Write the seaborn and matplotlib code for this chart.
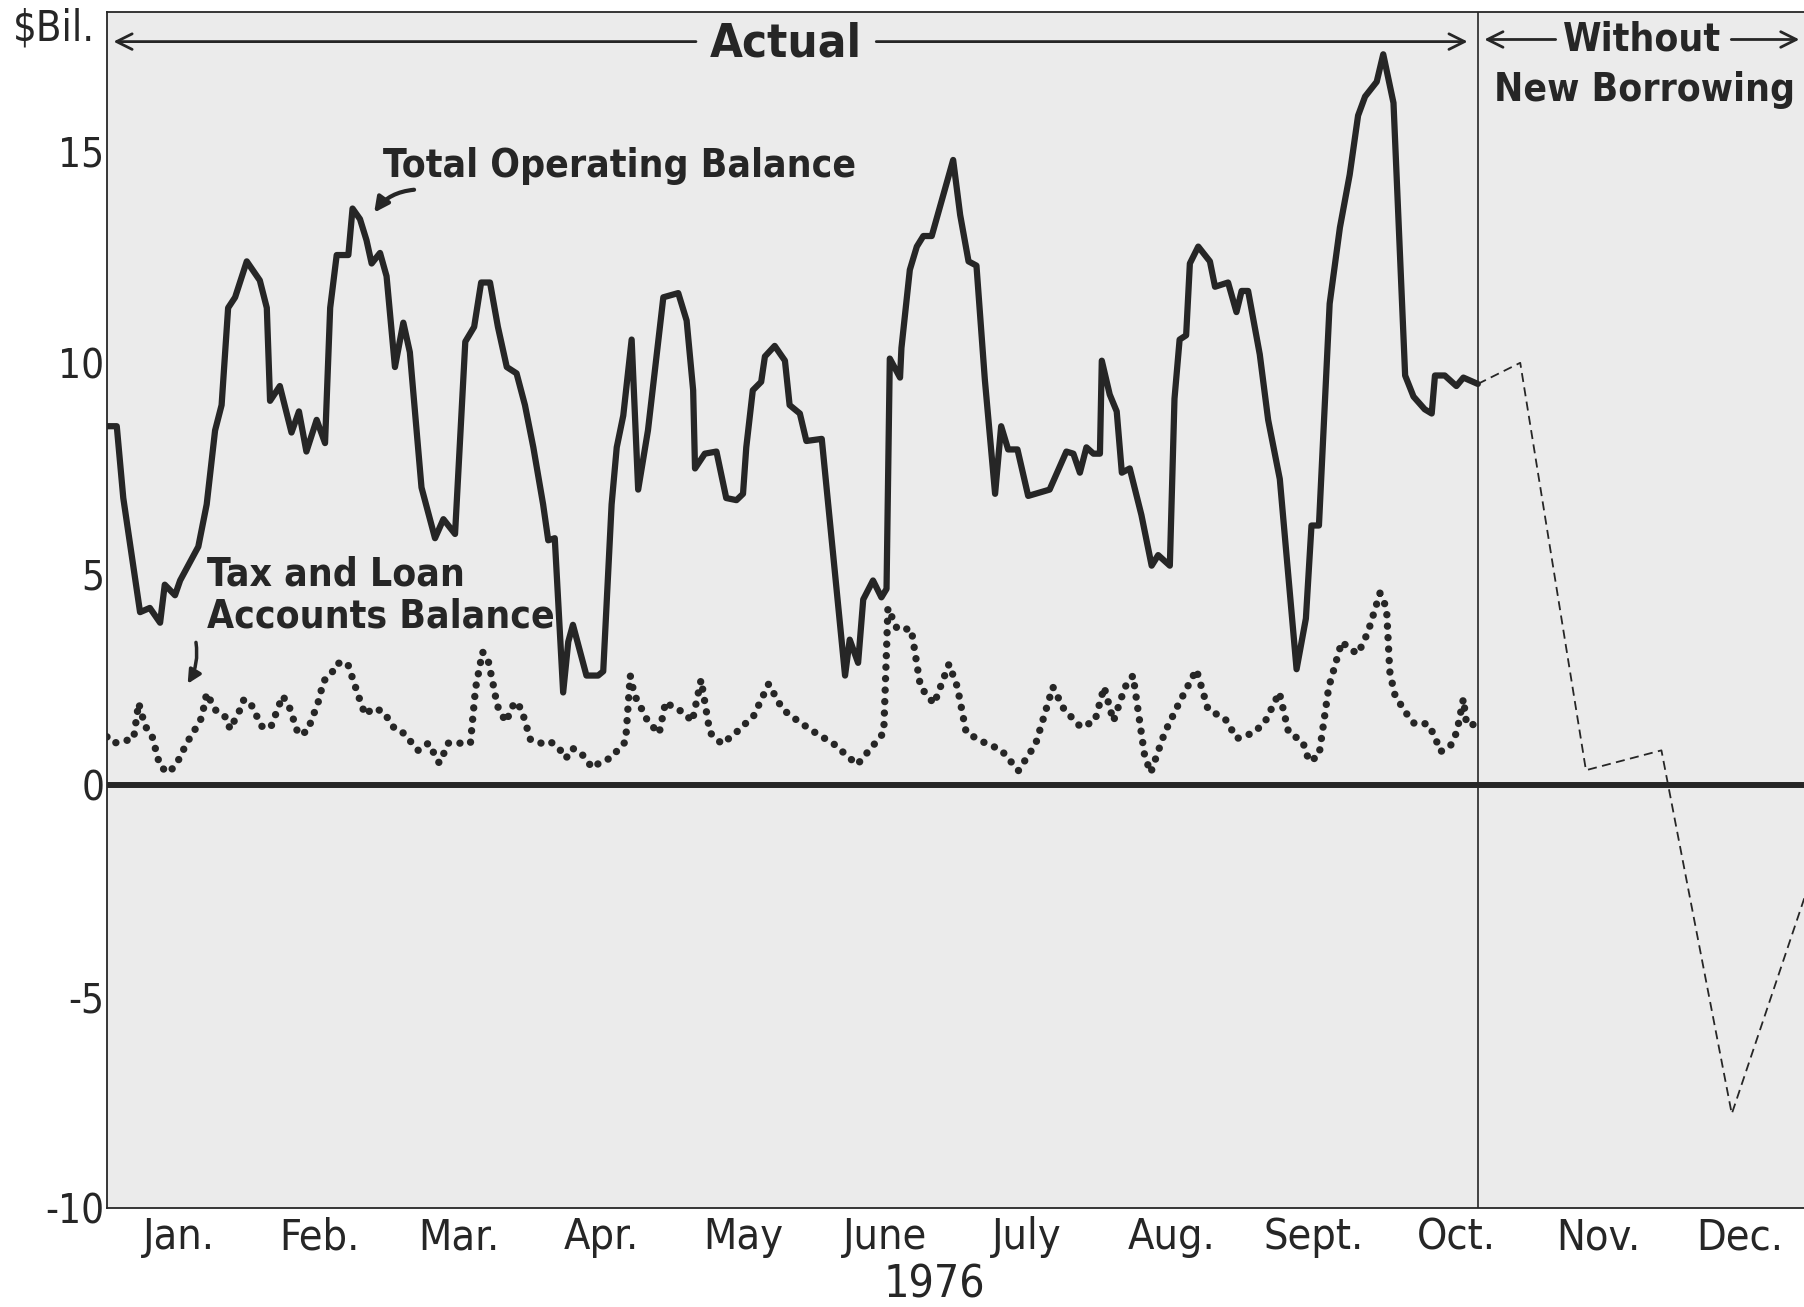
import pandas as pd
import seaborn as sns
import matplotlib.pyplot as plt

# ---- data: day of year 1976 (0 = Jan 1), $ billions ----
total_day = [0, 2.1, 3.5, 7.1, 9.2, 11.4, 12.4, 14.6, 15.7, 19.6, 21.4, 23.2, 24.6, 26.0,
             27.5, 30.0, 32.8, 34.3, 35.0, 37.1, 39.6, 41.2, 42.8, 45.0, 46.8, 47.9, 49.3,
             51.8, 52.7, 54.3, 55.7, 56.8, 58.6, 60.0, 61.8, 63.6, 65.0, 67.5, 70.4, 72.2,
             74.7, 76.9, 78.8, 80.3, 82.2, 83.9, 85.8, 87.9, 89.7, 91.5, 93.6, 94.7, 96.1,
             97.9, 99.0, 100.0, 102.9, 105.4, 106.5, 108.3, 109.4, 110.8, 112.6, 114.0,
             116.1, 119.4, 122.6, 124.4, 125.8, 126.2, 128.3, 130.8, 132.9, 135.1, 136.5,
             137.2, 138.6, 140.4, 141.2, 143.3, 145.5, 146.5, 148.7, 150.1, 153.4, 158.4,
             159.4, 161.2, 162.3, 164.4, 166.2, 167.3, 168.0, 170.2, 170.5, 172.3, 173.8,
             175.2, 177.0, 181.6, 183.1, 184.9, 186.6, 188.4, 190.6, 191.9, 193.4, 195.4,
             197.7, 202.3, 205.9, 207.4, 208.8, 210.2, 211.7, 213.1, 213.5, 215.2, 216.7,
             217.8, 219.5, 222.0, 224.2, 225.6, 228.1, 229.1, 230.2, 231.6, 232.4, 234.2,
             236.7, 237.8, 240.6, 242.4, 243.5, 244.9, 247.4, 249.2, 251.7, 255.3, 257.3,
             258.5, 260.1, 262.4, 264.6, 266.7, 268.5, 270.0, 272.5, 273.9, 276.1, 278.6,
             280.4, 282.8, 284.3, 285.0, 287.1, 289.6, 291.1, 294.2]
total_val = [8.5, 8.5, 6.8, 4.1, 4.2, 3.85, 4.75, 4.5, 4.85, 5.65, 6.65, 8.4, 9.0, 11.3,
             11.55, 12.4, 11.95, 11.3, 9.1, 9.45, 8.35, 8.85, 7.9, 8.65, 8.1, 11.3, 12.55,
             12.55, 13.65, 13.4, 12.9, 12.35, 12.6, 12.05, 9.9, 10.95, 10.25, 7.05, 5.85, 6.3,
             5.95, 10.5, 10.85, 11.9, 11.9, 10.85, 9.9, 9.75, 9.0, 8.0, 6.65, 5.8, 5.85,
             2.2, 3.4, 3.8, 2.6, 2.6, 2.7, 6.65, 8.0, 8.75, 10.55, 7.0,
             8.4, 11.55, 11.65, 11.0, 9.35, 7.5, 7.85, 7.9, 6.8, 6.75, 6.9,
             8.0, 9.35, 9.55, 10.15, 10.4, 10.05, 9.0, 8.8, 8.15, 8.2, 2.6,
             3.45, 2.9, 4.4, 4.85, 4.45, 4.65, 10.1, 9.65, 10.35, 12.2, 12.75,
             13.0, 13.0, 14.8, 13.5, 12.4, 12.3, 9.6, 6.9, 8.5, 7.95, 7.95,
             6.85, 7.0, 7.9, 7.85, 7.4, 8.0, 7.85, 7.85, 10.05, 9.25, 8.85,
             7.4, 7.5, 6.4, 5.2, 5.45, 5.2, 9.15, 10.55, 10.65, 12.35, 12.75,
             12.4, 11.8, 11.9, 11.2, 11.7, 11.7, 10.2, 8.65, 7.25, 2.75, 3.95,
             6.15, 6.15, 11.4, 13.2, 14.45, 15.85, 16.3, 16.65, 17.3, 16.15, 9.7,
             9.2, 8.9, 8.8, 9.7, 9.7, 9.45, 9.65, 9.5]

tax_day = [0, 1.4, 3.5, 5.7, 6.8, 8.2, 9.6, 11.4, 13.2, 14.9, 17.1, 19.2, 20.3, 21.4, 22.5,
           23.5, 25.7, 26.4, 28.5, 29.4, 31.0, 33.2, 35.1, 37.7, 39.0, 41.1, 43.0, 45.3,
           46.5, 48.2, 49.3, 51.6, 53.9, 55.4, 57.1, 59.3, 61.8, 63.6, 66.8, 69.0, 71.3,
           72.3, 73.2, 78.0, 79.1, 80.6, 81.8, 83.2, 83.7, 85.6, 87.5, 88.9, 90.9, 93.2,
           95.1, 97.0, 98.5, 99.9, 101.8, 104.2, 106.1, 108.0, 111.3, 112.3, 113.2, 114.7,
           116.1, 118.5, 119.9, 121.8, 123.7, 125.6, 127.5, 129.4, 132.0, 135.0, 138.8,
           142.0, 145.0, 148.6, 152.0, 156.0, 161.0, 164.7, 166.7, 167.6, 169.6, 172.6,
           174.6, 177.5, 180.7, 182.5, 184.4, 188.0, 191.9, 195.6, 199.3, 203.0, 205.4,
           209.0, 212.0, 214.0, 216.0, 218.5, 220.2, 222.7, 224.0, 227.0, 230.0, 233.8,
           236.3, 240.0, 242.5, 246.2, 248.6, 251.6, 253.6, 256.6, 258.0, 260.1, 262.2,
           265.0, 267.1, 268.5, 270.6, 273.2, 274.6, 275.3, 276.3, 278.4, 280.6, 283.4,
           284.8, 286.2, 288.3, 289.7, 291.1, 291.8, 293.6]
tax_val = [1.15, 1.0, 1.05, 1.1, 1.95, 1.4, 1.2, 0.45, 0.3, 0.5, 1.0, 1.38, 1.6, 2.18, 1.95,
           1.75, 1.6, 1.33, 1.78, 2.04, 1.9, 1.4, 1.36, 2.12, 1.9, 1.2, 1.28, 1.96,
           2.47, 2.65, 2.89, 2.9, 2.14, 1.67, 1.83, 1.75, 1.33, 1.24, 0.83, 1.0, 0.53,
           0.76, 1.0, 1.0, 2.3, 3.16, 2.96, 2.22, 1.9, 1.5, 1.98, 1.82, 1.08, 1.0,
           1.04, 0.88, 0.64, 0.88, 0.76, 0.41, 0.57, 0.64, 1.04, 2.6, 2.14, 1.82,
           1.51, 1.23, 1.98, 1.82, 1.74, 1.51, 2.5, 1.25, 0.98, 1.25, 1.65,
           2.4, 1.8, 1.5, 1.25, 0.98, 0.49, 0.98, 1.25, 4.2, 3.7, 3.7,
           2.33, 1.93, 2.87, 2.33, 1.25, 1.03, 0.84, 0.35, 0.98, 2.33, 1.8,
           1.38, 1.52, 2.33, 1.52, 2.33, 2.6, 0.7, 0.3, 1.25, 1.93, 2.74,
           1.8, 1.57, 1.11, 1.25, 1.52, 2.2, 1.25, 1.04, 0.57, 0.7, 2.32,
           3.4, 3.2, 3.12, 3.62, 4.55, 4.2, 2.7, 2.17, 1.77, 1.46, 1.46,
           1.2, 0.8, 0.93, 1.27, 2.05, 1.44, 1.44]

proj_day = [294.2, 303.3, 317.4, 333.6, 348.7, 366.0]
proj_val = [9.5, 10.0, 0.36, 0.83, -7.77, -2.1]

month_names = ["Jan.", "Feb.", "Mar.", "Apr.", "May", "June", "July", "Aug.", "Sept.",
               "Oct.", "Nov.", "Dec."]
month_start = [0, 31, 60, 91, 121, 152, 182, 213, 244, 274, 305, 335, 366]
y_ticks = [-10, -5, 0, 5, 10, 15]
split_day = 294.2

total_df = pd.DataFrame({"day": total_day, "value": total_val})
tax_df = pd.DataFrame({"day": tax_day, "value": tax_val})
proj_df = pd.DataFrame({"day": proj_day, "value": proj_val})

# ---- style ----
sns.set_style("white")
plt.rcParams["font.family"] = ["DejaVu Sans"]
plt.rcParams["font.stretch"] = "condensed"
ink = "#262626"

fig = plt.figure(figsize=(18.04, 13.07), dpi=100)
fig.patch.set_facecolor("white")
ax = fig.add_axes([0.0593, 0.0757, 0.9407, 0.9151])
ax.set_facecolor("#ebebeb")

ax.axhline(0, color=ink, lw=4.3, zorder=2)
ax.axvline(split_day, color=ink, lw=1.2, zorder=2)

sns.lineplot(data=total_df, x="day", y="value", ax=ax, color=ink, linewidth=4.5,
             estimator=None, sort=False, zorder=4)
sns.lineplot(data=tax_df, x="day", y="value", ax=ax, color=ink, linewidth=5.3,
             estimator=None, sort=False, linestyle=(0, (0.01, 1.55)),
             dash_capstyle="round", zorder=4)
sns.lineplot(data=proj_df, x="day", y="value", ax=ax, color=ink, linewidth=1.3,
             estimator=None, sort=False, linestyle=(0, (5, 3)), zorder=3)

ax.set_xlim(0, 364.2)
ax.set_ylim(-10, 18.3)
ax.set_xlabel("")
ax.set_ylabel("")

# month boundaries as inward ticks, names centred between them
ax.set_xticks(month_start[1:-1])
ax.set_xticklabels([])
mids = [(a + b) / 2 for a, b in zip(month_start[:-1], month_start[1:])]
ax.set_xticks(mids, minor=True)
ax.set_xticklabels(month_names, minor=True, fontsize=31, color=ink)
ax.tick_params(axis="x", which="major", direction="in", length=21, width=1.1, color=ink)
ax.tick_params(axis="x", which="minor", length=0, pad=6)

ax.set_yticks(y_ticks)
ax.set_yticklabels([str(t) for t in y_ticks], fontsize=29, color=ink)
ax.tick_params(axis="y", direction="in", length=21, width=1.1, color=ink, pad=2)

for side in ["left", "top", "bottom"]:
    ax.spines[side].set_color(ink)
    ax.spines[side].set_linewidth(1.3)
ax.spines["right"].set_visible(False)

# ---- labels ----
bold = dict(fontweight="bold", color=ink)
ax.text(59.3, 14.65, "Total Operating Balance", fontsize=28, ha="left", va="center", **bold)
ax.annotate("", xy=(57.0, 13.5), xytext=(66.5, 14.1),
            arrowprops=dict(arrowstyle="-|>", lw=3, color=ink, mutation_scale=22,
                            connectionstyle="arc3,rad=0.25"))
ax.text(21.5, 4.5, "Tax and Loan\nAccounts Balance", fontsize=28, ha="left", va="center",
        linespacing=1.15, **bold)
ax.annotate("", xy=(17.0, 2.35), xytext=(19.0, 3.45),
            arrowprops=dict(arrowstyle="-|>", lw=2.5, color=ink, mutation_scale=20,
                            connectionstyle="arc3,rad=-0.2"))

ax.text(145.7, 17.55, "Actual", fontsize=34, ha="center", va="center", **bold)
arr = dict(arrowstyle="->", lw=2, color=ink, mutation_scale=28)
ax.annotate("", xy=(0.8, 17.6), xytext=(127.0, 17.6), arrowprops=arr)
ax.annotate("", xy=(292.6, 17.6), xytext=(164.5, 17.6), arrowprops=arr)

ax.text(329.4, 17.65, "Without", fontsize=28, ha="center", va="center", **bold)
ax.text(330.0, 16.45, "New Borrowing", fontsize=28, ha="center", va="center", **bold)
ax.annotate("", xy=(295.0, 17.65), xytext=(311.5, 17.65), arrowprops=arr)
ax.annotate("", xy=(363.8, 17.65), xytext=(348.0, 17.65), arrowprops=arr)

fig.text(0.007, 0.978, "$Bil.", fontsize=30, ha="left", va="center", color=ink)
fig.text(0.518, 0.017, "1976", fontsize=32, ha="center", va="center", color=ink)

fig.savefig("out.png", dpi=100)
